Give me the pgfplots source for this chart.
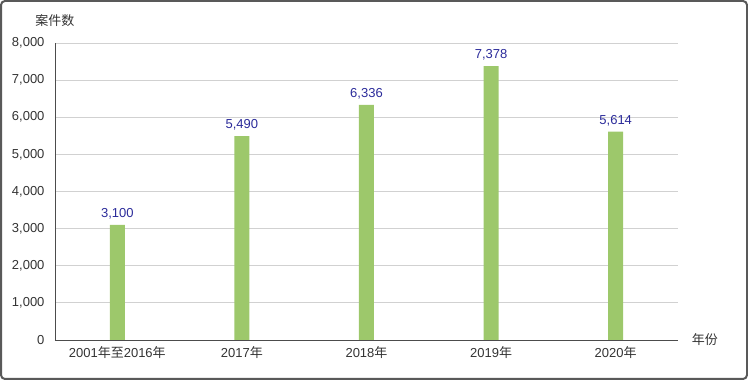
\documentclass[border=0pt]{standalone}
\usepackage{pgfplots}
\pgfplotsset{compat=1.18}
\usepackage{fontspec}
\setmainfont{Liberation Sans}
\newfontfamily\cjk{Noto Sans CJK SC}
\definecolor{barg}{HTML}{9DC86B}
\definecolor{lblue}{HTML}{2B2B9A}
\definecolor{txt}{HTML}{333333}
\begin{document}
\fontsize{13}{15}\selectfont
\begin{tikzpicture}
\draw[color=black!65, line width=2pt, rounded corners=4pt] (1pt,1pt) rectangle (747pt,379pt);
\begin{axis}[
  at={(55pt,40pt)}, anchor=south west,
  scale only axis, width=623pt, height=297pt,
  xmin=-0.5, xmax=4.5, ymin=0, ymax=8000,
  ytick={0,1000,...,8000},
  xtick={0,1,2,3,4},
  xticklabels={{2001{\cjk 年至}2016{\cjk 年}},{2017{\cjk 年}},{2018{\cjk 年}},{2019{\cjk 年}},{2020{\cjk 年}}},
  ymajorgrids, grid style={color=black!18, line width=0.8pt},
  axis lines*=left, axis line style={-, color=black!70, line width=0.8pt},
  major tick length=0pt,
  /pgf/number format/.cd, fixed, 1000 sep={,}, assume math mode=true,
  /pgfplots/.cd,
  tick label style={font=\fontsize{13}{15}\selectfont, color=txt},
  yticklabel style={xshift=-6pt},
  xticklabel style={yshift=-2pt},
  nodes near coords,
  nodes near coords style={font=\fontsize{13}{15}\selectfont, color=lblue, yshift=1pt},
  clip=false,
]
\addplot[ybar, bar width=15pt, fill=barg, draw=none] coordinates {(0,3100) (1,5490) (2,6336) (3,7378) (4,5614)};
\node[color=txt, font=\cjk\fontsize{13}{15}\selectfont] at (rel axis cs:0,1.074) {案件数};
\node[color=txt, font=\cjk\fontsize{13}{15}\selectfont] at (rel axis cs:1.043,0) {年份};
\end{axis}
\end{tikzpicture}
\end{document}
